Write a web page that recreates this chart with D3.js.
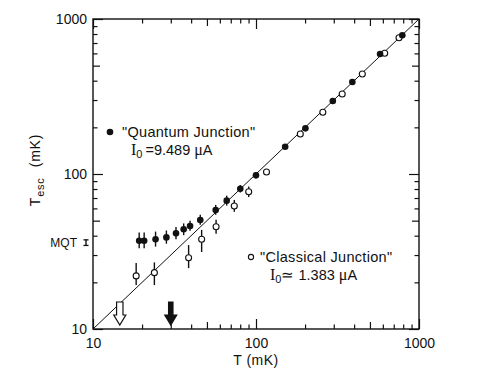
<!DOCTYPE html>
<html>
<head>
<meta charset="utf-8">
<script src="https://cdn.jsdelivr.net/npm/d3@7"></script>
<style>
  body { margin: 0; background: #fff; }
  text { font-family: "Liberation Sans", Arial, sans-serif; fill: #111; }
</style>
</head>
<body>
<script>
// "Quantum junction" (filled points)
const quantumT    = [19.2, 20.6, 24.2, 28.2, 32.3, 36.0, 39.4, 45.5, 56.6, 66.1, 80.1, 100, 151, 201, 296, 390, 577, 790];
const quantumTesc = [37.1, 37.1, 37.9, 39.0, 41.4, 44.0, 46.2, 50.5, 58.6, 67.3, 80.4, 98, 150, 197, 296, 392, 594, 785];
const quantumLo   = [33.2, 33.2, 34.0, 35.5, 38.0, 40.3, 43.0, 47.0, 54.5, 62.5, 76.0, 94, null, null, null, null, null, null];
const quantumHi   = [42.0, 42.0, 42.5, 43.2, 45.5, 48.0, 50.0, 54.5, 63.0, 72.5, 85.0, 103, null, null, null, null, null, null];

// "Classical junction" (open points)
const classicalT    = [18.4, 23.8, 38.6, 46.4, 56.9, 73.6, 90.2, 116, 187, 257, 338, 449, 616, 754];
const classicalTesc = [22.0, 23.1, 28.8, 37.9, 45.7, 62.2, 76.9, 103, 181, 250, 328, 442, 601, 757];
const classicalLo   = [19.2, 19.2, 24.7, 31.4, 41.2, 57.0, 71.0, 99, null, null, null, null, null, null];
const classicalHi   = [26.7, 26.9, 34.8, 43.6, 50.7, 68.0, 83.0, 107, null, null, null, null, null, null];

// arrows on the T axis (open, filled)
const arrowT      = [14.6, 30];
const arrowFilled = [false, true];

// MQT marker on the Tesc axis
const mqtTesc = 36, mqtLo = 34.6, mqtHi = 37.6;

const decadeLabels = [10, 100, 1000];

const width = 495, height = 376;
const margin = { left: 93, top: 19, right: 76, bottom: 47 };

const svg = d3.select('body').append('svg')
  .attr('width', width)
  .attr('height', height);

const x = d3.scaleLog().domain([10, 1000]).range([margin.left, width - margin.right]);
const y = d3.scaleLog().domain([10, 1000]).range([height - margin.bottom, margin.top]);

// all ticks 10,20,...,90,100,200,...,1000
let tickVals = [];
[10, 100].forEach(d => { for (let k = 1; k <= 9; k++) tickVals.push(k * d); });
tickVals.push(1000);

function tickLen(v) {
  const m = v / Math.pow(10, Math.floor(Math.log10(v) + 1e-9));
  if (Math.abs(m - 1) < 1e-6) return 10;
  if (Math.abs(m - 5) < 1e-6) return 7;
  return 4.5;
}
const fmt = v => decadeLabels.includes(v) ? v : '';

const x0 = x.range()[0], x1 = x.range()[1];
const y0 = y.range()[0], y1 = y.range()[1];

// bottom axis
svg.append('g')
  .attr('transform', `translate(0,${y0})`)
  .call(d3.axisBottom(x).tickValues(tickVals).tickFormat(fmt).tickSizeOuter(0).tickPadding(3))
  .call(g => g.select('.domain').remove())
  .call(g => g.selectAll('.tick line').attr('y2', d => -tickLen(d)).attr('stroke', '#111').attr('stroke-width', 1.2))
  .call(g => g.selectAll('.tick text').style('font-size', '14px').attr('fill', '#111'));

// top axis
svg.append('g')
  .attr('transform', `translate(0,${y1})`)
  .call(d3.axisTop(x).tickValues(tickVals).tickFormat('').tickSizeOuter(0))
  .call(g => g.select('.domain').remove())
  .call(g => g.selectAll('.tick line').attr('y2', d => tickLen(d)).attr('stroke', '#111').attr('stroke-width', 1.2));

// left axis
svg.append('g')
  .attr('transform', `translate(${x0},0)`)
  .call(d3.axisLeft(y).tickValues(tickVals).tickFormat(fmt).tickSizeOuter(0).tickPadding(0))
  .call(g => g.select('.domain').remove())
  .call(g => g.selectAll('.tick line').attr('x2', d => tickLen(d)).attr('stroke', '#111').attr('stroke-width', 1.2))
  .call(g => g.selectAll('.tick text').style('font-size', '14px').attr('fill', '#111'));

// right axis
svg.append('g')
  .attr('transform', `translate(${x1},0)`)
  .call(d3.axisRight(y).tickValues(tickVals).tickFormat('').tickSizeOuter(0))
  .call(g => g.select('.domain').remove())
  .call(g => g.selectAll('.tick line').attr('x2', d => -tickLen(d)).attr('stroke', '#111').attr('stroke-width', 1.2));

// frame
svg.append('rect')
  .attr('x', x0).attr('y', y1)
  .attr('width', x1 - x0).attr('height', y0 - y1)
  .attr('fill', 'none').attr('stroke', '#111').attr('stroke-width', 1.4);

// Tesc = T line
svg.append('line')
  .attr('x1', x(10)).attr('y1', y(10))
  .attr('x2', x(1000)).attr('y2', y(1000))
  .attr('stroke', '#111').attr('stroke-width', 1);

// error bars
function errorBars(ts, lo, hi) {
  svg.append('g').selectAll('line')
    .data(ts.map((t, i) => ({ t, lo: lo[i], hi: hi[i] })).filter(d => d.lo != null))
    .join('line')
    .attr('x1', d => x(d.t)).attr('x2', d => x(d.t))
    .attr('y1', d => y(d.lo)).attr('y2', d => y(d.hi))
    .attr('stroke', '#111').attr('stroke-width', 1.4);
}
errorBars(classicalT, classicalLo, classicalHi);
errorBars(quantumT, quantumLo, quantumHi);

// open points
svg.append('g').selectAll('circle')
  .data(classicalT.map((t, i) => ({ t, v: classicalTesc[i] })))
  .join('circle')
  .attr('cx', d => x(d.t)).attr('cy', d => y(d.v))
  .attr('r', 3)
  .attr('fill', '#fff').attr('stroke', '#111').attr('stroke-width', 1.1);

// filled points
svg.append('g').selectAll('circle')
  .data(quantumT.map((t, i) => ({ t, v: quantumTesc[i] })))
  .join('circle')
  .attr('cx', d => x(d.t)).attr('cy', d => y(d.v))
  .attr('r', 3.3)
  .attr('fill', '#111');

// arrows just above the T axis
arrowT.forEach((t, i) => {
  const cx = x(t);
  const tip = y0 - 4, headTop = tip - 10, tail = tip - 23;
  const sw = arrowFilled[i] ? 2.2 : 3.2, hw = 6;
  const pts = [[cx - sw, tail], [cx + sw, tail], [cx + sw, headTop], [cx + hw, headTop],
               [cx, tip], [cx - hw, headTop], [cx - sw, headTop]];
  svg.append('polygon')
    .attr('points', pts.map(p => p.join(',')).join(' '))
    .attr('fill', arrowFilled[i] ? '#111' : '#fff')
    .attr('stroke', '#111').attr('stroke-width', 1.2);
});

// MQT marker
const mx = x0 - 7;
svg.append('line').attr('x1', mx).attr('x2', mx).attr('y1', y(mqtLo)).attr('y2', y(mqtHi))
  .attr('stroke', '#111').attr('stroke-width', 1.4);
[mqtLo, mqtHi].forEach(v => {
  svg.append('line').attr('x1', mx - 2.5).attr('x2', mx + 2.5).attr('y1', y(v)).attr('y2', y(v))
    .attr('stroke', '#111').attr('stroke-width', 1.3);
});
svg.append('text')
  .attr('x', mx - 9).attr('y', y(mqtTesc) + 4)
  .attr('text-anchor', 'end')
  .style('font-size', '12px')
  .text('MQT');

// axis titles
svg.append('text')
  .attr('x', (x0 + x1) / 2).attr('y', 365)
  .attr('text-anchor', 'middle')
  .style('font-size', '14px')
  .style('letter-spacing', '0.5px')
  .text('T (mK)');

const yt = svg.append('text')
  .attr('transform', `translate(40,170) rotate(-90)`)
  .attr('text-anchor', 'middle')
  .style('font-size', '14px')
  .style('letter-spacing', '0.8px');
yt.append('tspan').text('T');
yt.append('tspan').attr('dy', 4).style('font-size', '11px').text('esc');
yt.append('tspan').attr('dy', -4).attr('dx', 10).text('(mK)');

// legend: quantum junction
const legendFont = '14.5px';
svg.append('circle').attr('cx', 110).attr('cy', 132).attr('r', 3.3).attr('fill', '#111');
svg.append('text').attr('x', 122).attr('y', 137).style('font-size', legendFont)
  .style('letter-spacing', '0.3px').text('"Quantum Junction"');
const q2 = svg.append('text').attr('x', 131).attr('y', 155).style('font-size', legendFont);
q2.append('tspan').style('font-family', '"Liberation Serif", serif').style('font-size', '16px').text('I');
q2.append('tspan').attr('dy', 3).style('font-size', '11px').text('0');
q2.append('tspan').attr('dy', -3).attr('dx', 3).text('=9.489 ');
q2.append('tspan').style('font-family', '"Liberation Serif", serif').style('font-size', '16px').text('μ');
q2.append('tspan').text('A');

// legend: classical junction
svg.append('circle').attr('cx', 251).attr('cy', 257).attr('r', 2.6)
  .attr('fill', '#fff').attr('stroke', '#111').attr('stroke-width', 1.1);
svg.append('text').attr('x', 260).attr('y', 262).style('font-size', legendFont)
  .style('letter-spacing', '0.3px').text('"Classical Junction"');
const c2 = svg.append('text').attr('x', 270).attr('y', 280).style('font-size', legendFont);
c2.append('tspan').style('font-family', '"Liberation Serif", serif').style('font-size', '16px').text('I');
c2.append('tspan').attr('dy', 3).style('font-size', '11px').text('0');
c2.append('tspan').attr('dy', -3).text('≃ 1.383 ');
c2.append('tspan').style('font-family', '"Liberation Serif", serif').style('font-size', '16px').text('μ');
c2.append('tspan').text('A');
</script>
</body>
</html>
